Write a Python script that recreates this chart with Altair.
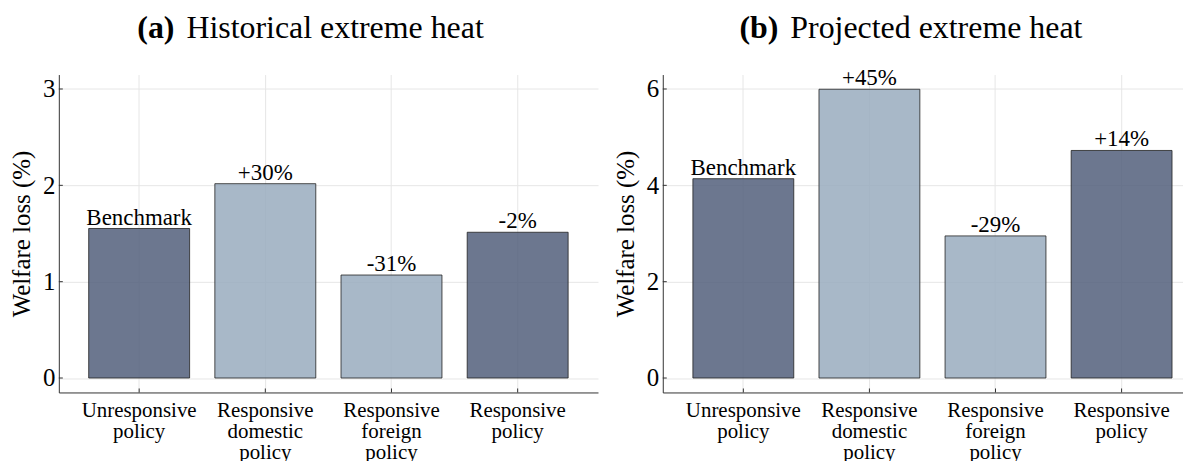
import altair as alt
import pandas as pd

# ---- data ----
category_lines = [
    ["Unresponsive", "policy"],
    ["Responsive", "domestic", "policy"],
    ["Responsive", "foreign", "policy"],
    ["Responsive", "policy"],
]
categories = ["\n".join(c) for c in category_lines]
shades = ["dark", "light", "light", "dark"]

hist_values = [1.552, 2.017, 1.069, 1.513]
hist_labels = ["Benchmark", "+30%", "-31%", "-2%"]
hist_ticks = [0, 1, 2, 3]

proj_values = [4.138, 5.995, 2.950, 4.724]
proj_labels = ["Benchmark", "+45%", "-29%", "+14%"]
proj_ticks = [0, 2, 4, 6]

FONT = "Liberation Serif"
DARK = "#525f7b"
LIGHT = "#99acbe"
GRID = "#e6e6e6"
AXIS = "#333333"
H = 319


def panel(values, labels, ticks, domain, tag, title, width, pad_outer, align):
    df = pd.DataFrame({"cat": categories, "value": values, "label": labels, "shade": shades})
    tick_df = pd.DataFrame({"value": ticks})
    xscale = alt.Scale(domain=categories, paddingInner=0.2, paddingOuter=pad_outer, align=align)
    yscale = alt.Scale(domain=domain, nice=False, zero=False)
    xaxis = alt.Axis(
        title=None, labelExpr="split(datum.label, '\\n')", labelAngle=0,
        labelFont=FONT, labelFontSize=21, labelLineHeight=21, labelPadding=7,
        labelColor="black", tickSize=0, domainColor=AXIS, domainWidth=1,
        grid=True, gridColor=GRID, gridWidth=1, bandPosition=0.5,
    )
    yaxis = alt.Axis(
        values=ticks, format="d", title="Welfare loss (%)", titleFont=FONT, titleFontSize=25,
        titleFontWeight="normal", titleColor="black", titlePadding=8,
        labelFont=FONT, labelFontSize=25, labelPadding=4, labelColor="black",
        tickSize=0, domainColor=AXIS, domainWidth=1,
        grid=True, gridColor=GRID, gridWidth=1,
    )
    X = alt.X("cat:N", scale=xscale, sort=None, axis=xaxis)
    Y = alt.Y("value:Q", scale=yscale, axis=yaxis)
    base = alt.Chart(df)
    bars = base.mark_bar(stroke="#222222", strokeWidth=1, strokeOpacity=0.8, fillOpacity=0.85).encode(
        x=X,
        y=Y,
        y2=alt.datum(0),
        color=alt.Color("shade:N", scale=alt.Scale(domain=["dark", "light"], range=[DARK, LIGHT]), legend=None),
    )
    text = base.mark_text(baseline="alphabetic", dy=-4, font=FONT, fontSize=23, color="black").encode(
        x=X, y=Y, text="label:N"
    )
    yticks = alt.Chart(tick_df).mark_rule(color=AXIS, strokeWidth=1).encode(
        y=Y, x=alt.value(0), x2=alt.value(4)
    )
    xticks = base.mark_rule(color=AXIS, strokeWidth=1).encode(
        x=X, y=alt.value(H - 4), y2=alt.value(H)
    )
    tag_t = alt.Chart(pd.DataFrame({"t": [tag]})).mark_text(
        align="right", baseline="alphabetic", font=FONT, fontSize=32, fontWeight="bold", color="black"
    ).encode(x=alt.value(116), y=alt.value(-37), text="t:N")
    title_t = alt.Chart(pd.DataFrame({"t": [title]})).mark_text(
        align="left", baseline="alphabetic", font=FONT, fontSize=32, color="black"
    ).encode(x=alt.value(128), y=alt.value(-37), text="t:N")
    return alt.layer(bars, text, yticks, xticks, tag_t, title_t).properties(width=width, height=H)


left = panel(hist_values, hist_labels, hist_ticks, [-0.15, 3.15], "(a)", "Historical extreme heat", 541, 0.2367, 0.5)
right = panel(proj_values, proj_labels, proj_ticks, [-0.3, 6.3], "(b)", "Projected extreme heat", 522, 0.163, 0.733)

chart = alt.hconcat(left, right, spacing=65, bounds="flush").properties(
    padding={"left": 1, "top": 3, "right": 0, "bottom": 0}
).configure_view(stroke=None).configure_axis(
    labelFont=FONT, titleFont=FONT
).configure_text(font=FONT)

chart.save("out.html", embed_options={"renderer": "svg", "actions": False})
